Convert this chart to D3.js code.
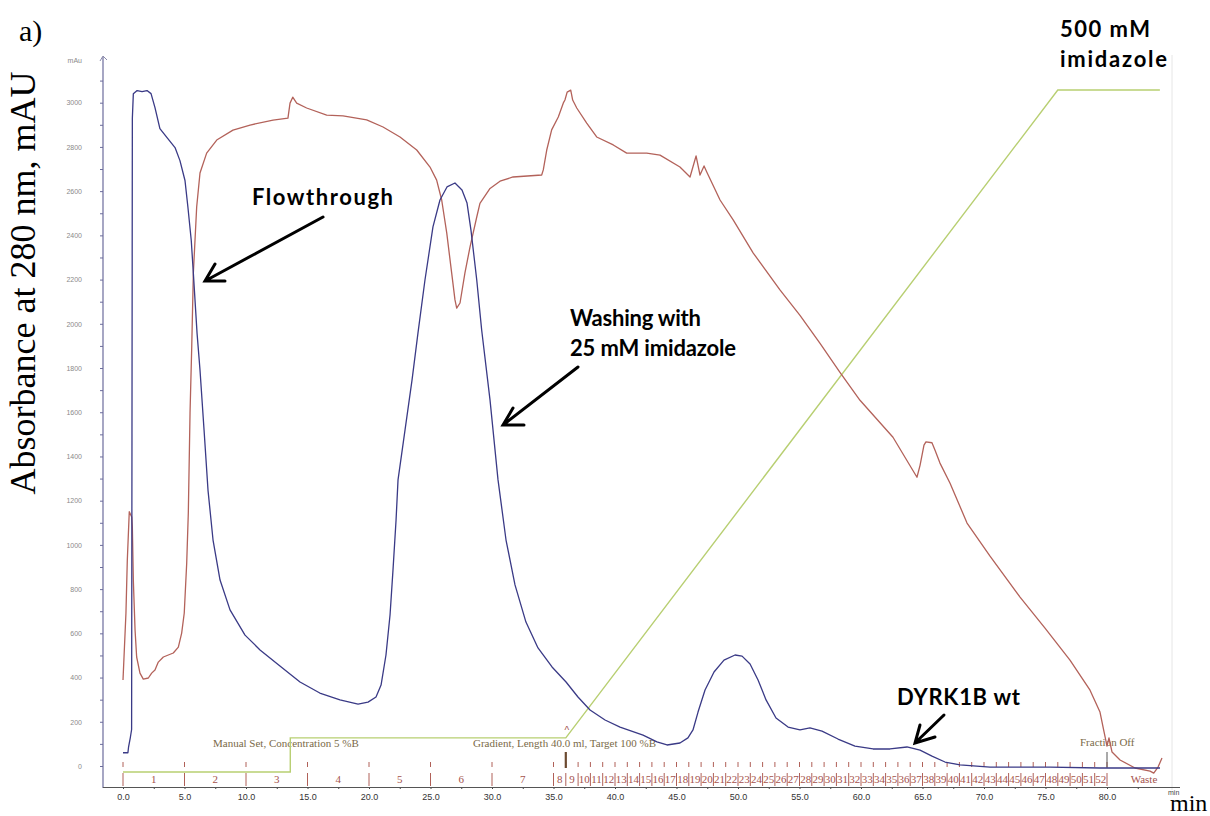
<!DOCTYPE html>
<html><head><meta charset="utf-8">
<script src="https://cdn.jsdelivr.net/npm/d3@7"></script>
<style>body{margin:0;background:#fff}</style>
</head><body>
<svg id="c" width="1210" height="816" xmlns="http://www.w3.org/2000/svg"></svg>
<script>
// ---- data (time in min, absorbance in mAU, concentration in %B) ----
const uvBlue = [[0,60],[0.4,60],[0.45,85],[0.6,130],[0.7,165],[0.73,1500],[0.76,2930],[0.84,3040],[1.15,3055],[1.55,3050],[1.95,3055],[2.28,3041],[2.6,2978],[3.0,2883],[3.58,2842],[4.23,2797],[4.63,2738],[5.04,2648],[5.28,2526],[5.55,2377],[5.72,2228],[6.02,1958],[6.26,1791],[6.59,1520],[6.91,1248],[7.32,1022],[7.89,841],[8.7,706],[9.92,592],[11.14,525],[12.76,452],[14.39,380],[16.0,330],[17.64,299],[19.11,280],[19.92,289],[20.57,312],[20.98,366],[21.38,502],[21.71,683],[21.95,886],[22.2,1113],[22.36,1294],[22.93,1520],[23.5,1746],[23.98,1958],[24.55,2198],[25.2,2438],[25.77,2560],[26.34,2619],[26.99,2637],[27.56,2605],[27.97,2546],[28.29,2424],[28.76,2198],[29.16,1972],[29.84,1655],[30.49,1294],[31.14,1022],[31.87,819],[32.76,651],[33.74,534],[34.88,448],[36.02,380],[36.99,312],[37.97,253],[39.19,208],[40.41,176],[42.28,140],[43.41,109],[44.23,95],[45.28,104],[45.93,127],[46.34,163],[46.75,244],[47.32,344],[48.05,425],[48.86,479],[49.76,502],[50.33,497],[50.98,461],[51.63,389],[52.28,299],[53.09,217],[54.07,176],[55.04,163],[55.85,172],[56.83,158],[58.13,122],[59.51,90],[60.98,77],[62.36,77],[63.74,86],[64.8,72],[65.77,45],[66.83,18],[68.05,5],[70.49,-5],[75.37,-5],[79.43,-9],[84.31,-9]];

const uvRed = [[0,389],[0.24,692],[0.35,931],[0.51,1150],[0.71,1126],[0.76,1080],[0.84,840],[0.98,615],[1.11,493],[1.38,420],[1.65,393],[2.06,398],[2.33,420],[2.6,434],[2.87,470],[3.28,493],[4.09,511],[4.5,538],[4.77,601],[4.98,692],[5.18,918],[5.31,1144],[5.45,1597],[5.59,1900],[5.72,2230],[5.99,2528],[6.26,2682],[6.8,2772],[7.62,2831],[8.94,2876],[10.33,2899],[12.2,2921],[13.41,2930],[13.58,2998],[13.8,3025],[14.12,2998],[14.93,2976],[16.56,2944],[17.89,2940],[19.81,2922],[21.14,2890],[22.52,2845],[23.88,2786],[24.96,2709],[25.5,2650],[25.91,2560],[26.32,2411],[26.72,2230],[26.99,2108],[27.13,2071],[27.4,2094],[27.8,2230],[28.21,2347],[28.76,2483],[29.02,2545],[29.84,2612],[30.65,2645],[31.71,2664],[34.04,2673],[34.17,2696],[34.45,2786],[34.85,2877],[35.39,2935],[35.8,2999],[35.93,3012],[36.11,3048],[36.4,3057],[36.56,3012],[36.89,2976],[37.7,2908],[38.51,2845],[39.86,2809],[40.95,2772],[42.58,2772],[43.66,2763],[45.28,2709],[46.1,2664],[46.59,2759],[46.91,2673],[47.24,2714],[47.46,2687],[48.54,2560],[49.62,2469],[51.24,2320],[53.41,2153],[55.04,2038],[56.67,1911],[58.29,1780],[59.92,1654],[62.6,1487],[64.55,1306],[64.8,1360],[65.12,1451],[65.28,1466],[65.77,1462],[66.02,1428],[66.42,1370],[67.24,1279],[68.62,1099],[70.49,949],[72.93,764],[74.96,624],[76.99,479],[78.62,343],[79.43,244],[79.76,154],[80.0,90],[80.16,127],[80.41,63],[81.06,27],[82.28,-9],[83.5,-23],[83.8,-32],[84.15,-5],[84.47,36]];

const concB = [[0,0],[13.6,0],[13.6,5],[36.0,5],[76.0,100],[84.3,100]];

const fractionBounds = [0,5,10,15,20,25,30,35,36,37,38,39,40,41,42,43,44,45,46,47,48,49,50,51,52,53,54,55,56,57,58,59,60,61,62,63,64,65,66,67,68,69,70,71,72,73,74,75,76,77,78,79,80];
const fractionNames = ["1","2","3","4","5","6","7","8","9","10","11","12","13","14","15","16","17","18","19","20","21","22","23","24","25","26","27","28","29","30","31","32","33","34","35","36","37","38","39","40","41","42","43","44","45","46","47","48","49","50","51","52"];
const xTickValues = [0,5,10,15,20,25,30,35,40,45,50,55,60,65,70,75,80];
const xMinorTicks = [2.5,7.5,12.5,17.5,22.5,27.5,32.5,37.5,42.5,47.5,52.5,57.5,62.5,67.5,72.5,77.5,82.5];
const yTickValues = [0,200,400,600,800,1000,1200,1400,1600,1800,2000,2200,2400,2600,2800,3000];
const yMinorTicks = [100,300,500,700,900,1100,1300,1500,1700,1900,2100,2300,2500,2700,2900,3100];
const gradientStart = 36.0;
const fractionOff = 80;

// ---- scales ----
const x = d3.scaleLinear().domain([0,80]).range([123,1107]);
const y = d3.scaleLinear().domain([0,3000]).range([766,102.7]);
const yB = d3.scaleLinear().domain([0,100]).range([772,90]);

const svg = d3.select("#c");
const SERIF = "'Liberation Serif','Times New Roman',serif";
const SANS = "'Liberation Sans',Arial,sans-serif";
const BOLD = "Lato,'Open Sans',sans-serif";

// faint screenshot border
svg.append("line").attr("x1",1172).attr("x2",1172).attr("y1",55).attr("y2",790)
  .attr("stroke","#e6e6e6").attr("stroke-width",1);

// ---- y axis ----
const gy = svg.append("g").attr("transform","translate(103,0)");
gy.call(d3.axisLeft(y).tickValues(yTickValues).tickSize(3).tickPadding(18).tickFormat(d3.format("d")));
gy.append("g").call(d3.axisLeft(y).tickValues(yMinorTicks).tickSize(3).tickFormat(""));
gy.selectAll(".domain").remove();
gy.selectAll("line").attr("stroke","#6c6c9c");
gy.selectAll("text").attr("font-family",SANS).attr("font-size",7).attr("fill","#8a8a8a");
svg.append("line").attr("x1",103).attr("x2",103).attr("y1",57).attr("y2",788).attr("stroke","#6c6c9c").attr("stroke-width",1.2);
svg.append("path").attr("d","M100,61 L103,56 L107,60").attr("fill","none").attr("stroke","#8a8aaa").attr("stroke-width",1);
svg.append("text").attr("x",82).attr("y",63).attr("text-anchor","end").attr("font-family",SANS).attr("font-size",7).attr("fill","#8a8a8a").text("mAu");

// ---- x axis ----
const gx = svg.append("g").attr("transform","translate(0,787)");
gx.call(d3.axisBottom(x).tickValues(xTickValues).tickSize(2).tickPadding(4.5).tickFormat(d3.format(".1f")));
gx.append("g").call(d3.axisBottom(x).tickValues(xMinorTicks).tickSize(2).tickFormat(""));
gx.selectAll(".domain").remove();
gx.selectAll("line").attr("stroke","#444");
gx.selectAll("text").attr("font-family",SANS).attr("font-size",9).attr("fill","#333");
svg.append("line").attr("x1",103).attr("x2",1180).attr("y1",787.5).attr("y2",787.5).attr("stroke","#555").attr("stroke-width",1.2);
svg.append("text").attr("x",1168).attr("y",795).attr("font-family",SANS).attr("font-size",7).attr("fill","#444").text("min");

// ---- fraction row ----
const fr = svg.append("g");
fr.selectAll(".lt").data(fractionBounds).join("line")
  .attr("x1",d=>x(d)).attr("x2",d=>x(d)).attr("y1",773).attr("y2",786)
  .attr("stroke","#b06058").attr("stroke-width",1);
fr.selectAll(".ut").data(fractionBounds).join("line")
  .attr("x1",d=>x(d)).attr("x2",d=>x(d)).attr("y1",762).attr("y2",767)
  .attr("stroke","#b06058").attr("stroke-width",1);
fr.selectAll("text.fn").data(fractionNames).join("text")
  .attr("x",(d,i)=>(x(fractionBounds[i])+x(fractionBounds[i+1]))/2)
  .attr("y",783).attr("text-anchor","middle")
  .attr("font-family",SERIF).attr("font-size",11).attr("fill","#a5524c").text(d=>d);
fr.append("text").attr("x",1144).attr("y",783).attr("text-anchor","middle")
  .attr("font-family",SERIF).attr("font-size",11).attr("fill","#a5524c").text("Waste");
// event marks
svg.append("line").attr("x1",x(gradientStart)).attr("x2",x(gradientStart)).attr("y1",752).attr("y2",768)
  .attr("stroke","#6b4a30").attr("stroke-width",2.2);
svg.append("line").attr("x1",x(fractionOff)).attr("x2",x(fractionOff)).attr("y1",752).attr("y2",768)
  .attr("stroke","#555").attr("stroke-width",1);
svg.append("text").attr("x",x(gradientStart)+1).attr("y",734).attr("text-anchor","middle")
  .attr("font-family",SANS).attr("font-size",10).attr("fill","#a5524c").text("^");

// method texts
const mt = [["Manual Set, Concentration 5 %B",213,747],["Gradient, Length 40.0 ml, Target 100 %B",473,747],["Fraction Off",1080,746]];
svg.selectAll("text.mt").data(mt).join("text").attr("x",d=>d[1]).attr("y",d=>d[2])
  .attr("font-family",SERIF).attr("font-size",11).attr("fill","#7a6a48").text(d=>d[0]);

// ---- lines ----
const line = d3.line().x(d=>x(d[0])).y(d=>y(d[1]));
const lineB = d3.line().x(d=>x(d[0])).y(d=>yB(d[1]));
svg.append("path").datum(concB).attr("d",lineB).attr("fill","none").attr("stroke","#b8cf72").attr("stroke-width",1.4);
svg.append("path").datum(uvRed).attr("d",line).attr("fill","none").attr("stroke","#b3625a").attr("stroke-width",1.3).attr("stroke-linejoin","round");
svg.append("path").datum(uvBlue).attr("d",line).attr("fill","none").attr("stroke","#3a3a86").attr("stroke-width",1.3).attr("stroke-linejoin","round");

// ---- labels ----
svg.append("text").attr("x",19).attr("y",41).attr("font-family",SERIF).attr("font-size",30).attr("fill","#000").text("a)");
svg.append("text").attr("transform","translate(35,283) rotate(-90)").attr("text-anchor","middle")
  .attr("font-family",SERIF).attr("font-size",36).attr("fill","#000").text("Absorbance at 280 nm, mAU");
svg.append("text").attr("x",1170).attr("y",811).attr("font-family",SERIF).attr("font-size",24).attr("fill","#000").text("min");

// ---- annotations ----
const notes = [["Flowthrough",252,205,141],["Washing with",570,326,131],["25 mM imidazole",570,356,166],["DYRK1B wt",897,705,123],["500 mM",1060,37,90],["imidazole",1060,67,107]];
svg.selectAll("text.note").data(notes).join("text").attr("x",d=>d[1]).attr("y",d=>d[2])
  .attr("font-family",BOLD).attr("font-weight",700).attr("font-size",22).attr("fill","#000")
  .attr("textLength",d=>d[3]).attr("lengthAdjust","spacing").text(d=>d[0]);

const arrows = [
  {tail:[323,217], tip:[205,281], a1:[215,264], a2:[225,281]},
  {tail:[578,367], tip:[503,425], a1:[513,408], a2:[524,425]},
  {tail:[944,715], tip:[915,743], a1:[920,725], a2:[935,737]}
];
arrows.forEach(a=>{
  svg.append("path").attr("d",`M${a.tail}L${a.tip}M${a.a1}L${a.tip}L${a.a2}`)
    .attr("fill","none").attr("stroke","#000").attr("stroke-width",3).attr("stroke-linecap","round").attr("stroke-linejoin","miter");
});
</script>
</body></html>
